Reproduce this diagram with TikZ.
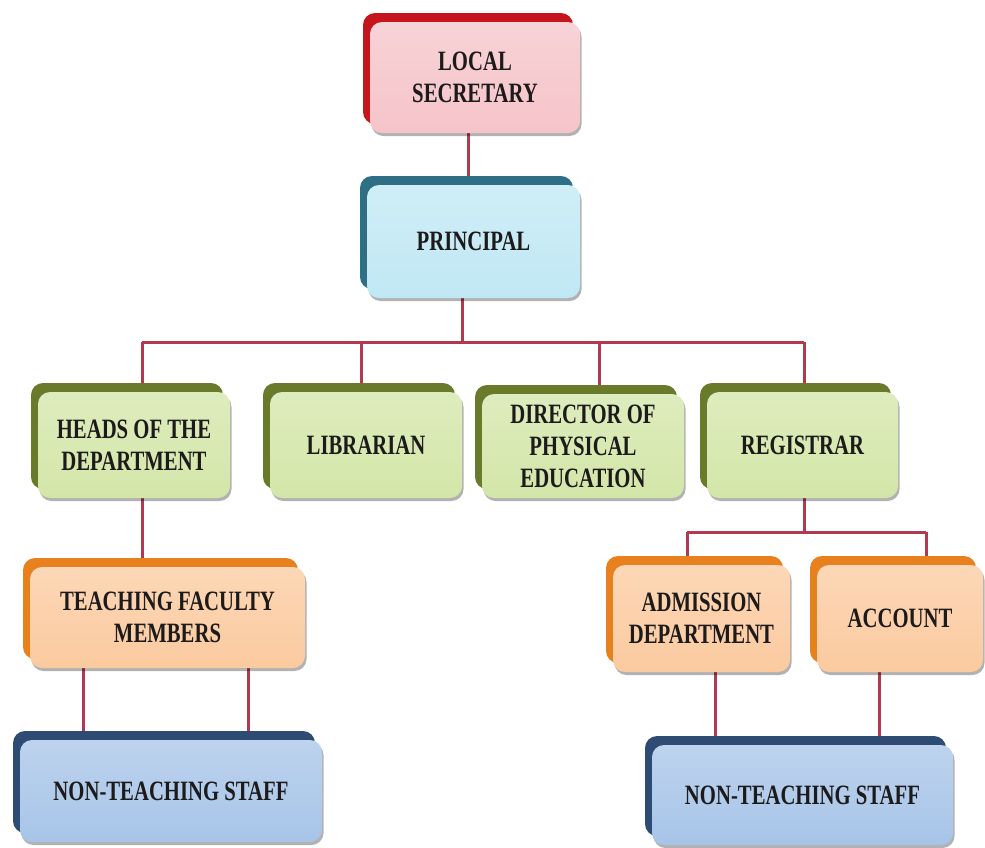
\documentclass[tikz,border=0pt]{standalone}
\usepackage{fontspec}
\newfontfamily\boxfont{Liberation Serif}[FakeStretch=0.74]
\usetikzlibrary{shadows}
\pgfdeclarelayer{background}
\pgfsetlayers{background,main}
\definecolor{redback}{HTML}{C4161C}
\definecolor{redface}{HTML}{F5C4C9}
\definecolor{tealback}{HTML}{2E6F85}
\definecolor{tealface}{HTML}{C0E8F4}
\definecolor{oliveback}{HTML}{697A2A}
\definecolor{oliveface}{HTML}{D3E6A8}
\definecolor{orangeback}{HTML}{E8801E}
\definecolor{orangeface}{HTML}{FBCA9F}
\definecolor{navyback}{HTML}{2E4C73}
\definecolor{navyface}{HTML}{A7C4E8}
\definecolor{connred}{HTML}{B23A50}
\definecolor{txt}{HTML}{1C1A1A}
\tikzset{
  conn/.style={draw=connred, line width=3pt},
  box/.style n args={2}{rectangle, rounded corners=12pt, inner sep=0pt, outer sep=0pt,
    align=center, text=txt, font=\boxfont\bfseries\fontsize{28}{32}\selectfont,
    top color=#2!75!white, bottom color=#2,
    drop shadow={shadow xshift=1.5pt, shadow yshift=-3pt, opacity=0.3, fill=black},
    copy shadow={shadow xshift=-7pt, shadow yshift=9pt, fill=#1, draw=none}},
  redbox/.style={box={redback}{redface}},
  tealbox/.style={box={tealback}{tealface}},
  greenbox/.style={box={oliveback}{oliveface}},
  orangebox/.style={box={orangeback}{orangeface}},
  bluebox/.style={box={navyback}{navyface}},
}
\begin{document}
\begin{tikzpicture}[x=1pt,y=-1pt]
\useasboundingbox (0,0) rectangle (985,847);
% named junction points
\coordinate (b0) at (462,342);
\coordinate (b1) at (142,342);
\coordinate (b2) at (361,342);
\coordinate (b3) at (599,342);
\coordinate (b4) at (804,342);
\coordinate (r0) at (804,532);
\coordinate (r1) at (687,532);
\coordinate (r2) at (926,532);
\coordinate (t1) at (83,0);
\coordinate (t2) at (248,0);
\coordinate (a1) at (715,0);
\coordinate (a2) at (879,0);
\coordinate (s1) at (468,0);
% boxes
\node[redbox, minimum width=210pt, minimum height=111pt] (sec) at (475,77.5) {LOCAL\\SECRETARY};
\node[tealbox, minimum width=213pt, minimum height=113pt] (prin) at (473.5,241.5) {PRINCIPAL};
\node[greenbox, minimum width=192pt, minimum height=106pt] (heads) at (134,445) {HEADS OF THE\\DEPARTMENT};
\node[greenbox, minimum width=192pt, minimum height=106pt] (lib) at (366,445) {LIBRARIAN};
\node[greenbox, minimum width=202pt, minimum height=104pt] (dir) at (583,446) {DIRECTOR OF\\PHYSICAL\\EDUCATION};
\node[greenbox, minimum width=191pt, minimum height=106pt] (reg) at (802.5,445) {REGISTRAR};
\node[orangebox, minimum width=275pt, minimum height=101pt] (teach) at (167.5,617.5) {TEACHING FACULTY\\MEMBERS};
\node[orangebox, minimum width=177pt, minimum height=107pt] (adm) at (701.5,618.5) {ADMISSION\\DEPARTMENT};
\node[orangebox, minimum width=166pt, minimum height=107pt] (acc) at (900,618.5) {ACCOUNT};
\node[bluebox, minimum width=302pt, minimum height=102pt] (nts1) at (171,791) {NON-TEACHING STAFF};
\node[bluebox, minimum width=301pt, minimum height=100pt] (nts2) at (802.5,795) {NON-TEACHING STAFF};
% connectors behind the boxes
\begin{pgfonlayer}{background}
\fill[white] (0,0) rectangle (985,847);
\draw[conn] (sec.south -| s1) -- (prin.north -| s1);
\draw[conn] (prin.south -| b0) -- (b0);
\draw[conn] (b1) -- (b4);
\draw[conn] (b1) -- (heads.north -| b1);
\draw[conn] (b2) -- (lib.north -| b2);
\draw[conn] (b3) -- (dir.north -| b3);
\draw[conn] (b4) -- (reg.north -| b4);
\draw[conn] (reg.south -| r0) -- (r0);
\draw[conn] (r1) -- (r2);
\draw[conn] (r1) -- (adm.north -| r1);
\draw[conn] (r2) -- (acc.north -| r2);
\draw[conn] (heads.south -| b1) -- (teach.north -| b1);
\draw[conn] (teach.south -| t1) -- (nts1.north -| t1);
\draw[conn] (teach.south -| t2) -- (nts1.north -| t2);
\draw[conn] (adm.south -| a1) -- (nts2.north -| a1);
\draw[conn] (acc.south -| a2) -- (nts2.north -| a2);
\end{pgfonlayer}
\end{tikzpicture}
\end{document}
